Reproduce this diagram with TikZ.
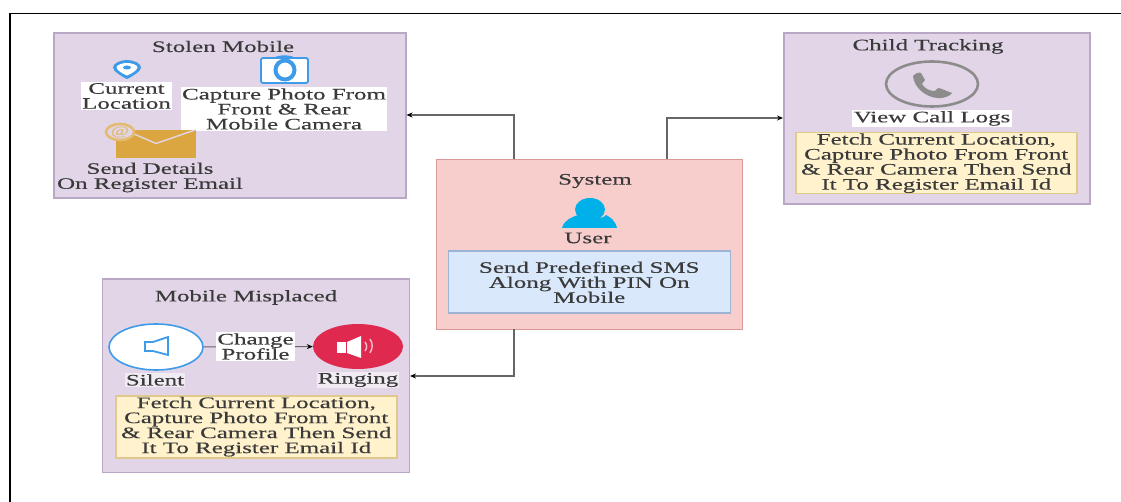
\documentclass[tikz,border=0pt]{standalone}
\usepackage{fontspec}
\setmainfont[FakeStretch=1.56,FakeBold=0.35]{Liberation Serif}
\usetikzlibrary{arrows.meta,shapes.geometric}
\definecolor{purp}{HTML}{E1D5E7}
\definecolor{purpd}{HTML}{B9A7C6}
\definecolor{pinkf}{HTML}{F8CECC}
\definecolor{pinkd}{HTML}{D99A97}
\definecolor{bluef}{HTML}{DAE8FC}
\definecolor{blued}{HTML}{9DB4D6}
\definecolor{yelf}{HTML}{FFF2CC}
\definecolor{yeld}{HTML}{E0C98A}
\definecolor{txt}{HTML}{3A3A3A}
\definecolor{iconb}{HTML}{3D9BE9}
\definecolor{gold}{HTML}{DBA53F}
\definecolor{goldl}{HTML}{E3BC72}
\definecolor{redb}{HTML}{E0294F}
\definecolor{usr}{HTML}{00B0E8}
\definecolor{gry}{HTML}{8C8C8C}
\tikzset{
 x=1pt,y=-1pt,
 every node/.style={font=\fontsize{16}{15}\selectfont,text=txt,align=center,inner sep=0pt},
 box/.style={draw=#1,line width=1.5pt,rectangle,anchor=north west},
 wlabel/.style={fill=white,inner xsep=1pt,inner ysep=1pt},
 conn/.style={draw=black!60,line width=1.1pt,-{Stealth[length=6pt,width=5pt,color=black]}},
}
\begin{document}
\begin{tikzpicture}
\useasboundingbox (0,0) rectangle (1121,502);
\fill[white] (0,0) rectangle (1121,502);
\draw[black,line width=1.5pt] (10,502) -- (10,13.5) -- (1121,13.5);
% boxes
\node[box=purpd,fill=purp,minimum width=352pt,minimum height=165pt] (stolen) at (53,32.5) {};
\node[box=purpd,fill=purp,minimum width=306pt,minimum height=171pt] (child) at (783,32.5) {};
\node[box=purpd,fill=purp,minimum width=307pt,minimum height=193pt] (misplaced) at (101.5,278.5) {};
\node[box=pinkd,fill=pinkf,minimum width=306pt,minimum height=170pt] (system) at (435.5,159) {};
% connectors
\coordinate (sysTL) at (514,159);
\coordinate (sysTR) at (667,159);
\coordinate (sysB) at (514,329);
\draw[conn] (sysTL) -- (514,115) -- (stolen.east |- 0,115);
\draw[conn] (sysTR) -- (667,118) -- (child.west |- 0,118);
\draw[conn] (sysB) -- (514,376) -- (misplaced.east |- 0,376);
% stolen
\node (t1) at (223,46.5) {Stolen Mobile};
\fill[iconb] (127,60) .. controls (133,60) and (141,63) .. (141,67.5) .. controls (141,71) and (132,77) .. (127,79) .. controls (122,77) and (113,71) .. (113,67.5) .. controls (113,63) and (121,60) .. (127,60) -- cycle;
\fill[white] (127,63) .. controls (131,63) and (137.5,64.5) .. (137.5,67.5) .. controls (137.5,70) and (131,74) .. (127,75.5) .. controls (123,74) and (116.5,70) .. (116.5,67.5) .. controls (116.5,64.5) and (123,63) .. (127,63) -- cycle;
\fill[iconb] (127,67.5) ellipse (4 and 2);
\node[wlabel] (loc) at (126.5,96) {Current\\Location};
\draw[iconb,fill=white,line width=1.8pt,rounded corners=2pt] (261,58) -- (308,58) -- (308,83) -- (261,83) -- cycle;
\fill[iconb] (274,58) .. controls (277,54.5) and (292,54.5) .. (295,58) -- cycle;
\draw[iconb,line width=4pt] (285,70) ellipse (9.5 and 9.5);
\node[wlabel,minimum width=204pt,minimum height=44pt] (cap) at (284,109) {Capture Photo From\\Front \& Rear\\Mobile Camera};
\fill[gold] (116,130) rectangle (196,158);
\draw[purp,line width=1.4pt] (134,134) -- (156,143.5) -- (195,130);
\draw[goldl,fill=purp,line width=2.6pt] (120,132) ellipse (14 and 8);
\node[text=goldl,font=\fontsize{13}{13}\selectfont] (at) at (120,132) {@};
\node (send) at (150,177.5) {Send Details\\On Register Email};
% child
\node (t2) at (928,46.5) {Child Tracking};
\draw[gry,line width=2.6pt] (932,84) ellipse (46 and 22.5);
\fill[gry] (913,76) .. controls (915,73) and (920,72) .. (921,73) -- (925,80) .. controls (924,82) and (922,83) .. (922,84) .. controls (925,89) and (930,91) .. (935,91) .. controls (936,90) and (937,88) .. (939,88) -- (952,93) .. controls (951,96) and (942,99) .. (937,98) .. controls (926,97) and (914,88) .. (913,76) -- cycle;
\node[wlabel,inner xsep=2pt] (logs) at (932,118.5) {View Call Logs};
\node[box=yeld,fill=yelf,minimum width=281pt,minimum height=61pt] (cb) at (795,132) {};
\node at (cb.center) {Fetch Current Location,\\Capture Photo From Front\\\& Rear Camera Then Send\\It To Register Email Id};
% misplaced
\node (t3) at (246,297.5) {Mobile Misplaced};
\node[draw=iconb,fill=white,line width=1.6pt,ellipse,minimum width=94pt,minimum height=46pt] (silent) at (156,347) {};
\draw[iconb,line width=1.8pt] (145,342) -- (153,342) -- (168,337) -- (168,355) -- (153,351) -- (145,351) -- cycle;
\node[fill=redb,ellipse,minimum width=90pt,minimum height=45pt] (ring) at (358,346.5) {};
\fill[white] (337,342) rectangle (346,353);
\fill[white] (347,342) -- (361,336) -- (361,358) -- (347,353) -- cycle;
\draw[white!70!redb,line width=1.4pt] (365,342) arc (-40:40:7);
\draw[white!70!redb,line width=1.4pt] (370,339) arc (-35:35:12);
\draw[black!60,line width=1pt,-{Stealth[length=6pt,width=5pt,color=black]}] (silent) -- (ring);
\node[wlabel] (chg) at (255.5,346.5) {Change\\Profile};
\node[fill=white,fill opacity=.55,text opacity=1,inner sep=1pt] (sl) at (155,380) {Silent};
\node[fill=white,fill opacity=.55,text opacity=1,inner sep=1pt] (rl) at (358,380) {Ringing};
\node[box=yeld,fill=yelf,minimum width=281pt,minimum height=62pt] (mb) at (115,395) {};
\node at (mb.center) {Fetch Current Location,\\Capture Photo From Front\\\& Rear Camera Then Send\\It To Register Email Id};
% system
\node (t4) at (595,181) {System};
\fill[usr] (562,228) .. controls (564,220) and (572,217) .. (578,215) .. controls (583,220) and (603,220) .. (606,215) .. controls (610,217) and (615,220) .. (617,228) -- cycle;
\fill[usr] (590,209.5) ellipse (15 and 11.5);
\node (usr) at (588,238) {User};
\node[box=blued,fill=bluef,minimum width=282pt,minimum height=62pt] (sb) at (447.5,250.5) {};
\node at (sb.center) {Send Predefined SMS\\Along With PIN On\\Mobile};
\end{tikzpicture}
\end{document}
